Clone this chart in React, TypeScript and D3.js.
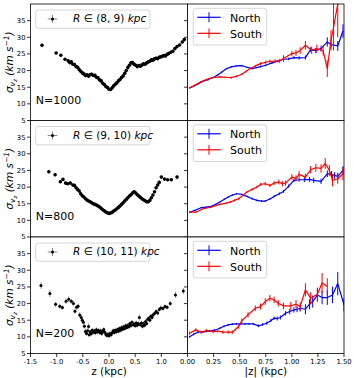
import React from 'react';
import * as d3 from 'd3';

const W = 354;
const HGT = 378;
const rowTops = [4, 120.5, 237];
const rowH = 116.5;
const leftX0 = 30.5;
const midX = 187.5;
const rightX1 = 344;

const yTicks = [5, 10, 15, 20, 25, 30, 35];
const zTicks = [-1.5, -1.0, -0.5, 0.0, 0.5, 1.0];
const absZTicks = [0, 0.25, 0.5, 0.75, 1.0, 1.25, 1.5];
const radialBins = ['(8, 9)', '(9, 10)', '(10, 11)'];
const starCounts = [1000, 800, 200];

// [z, sigma_vz, err]  -- R in (8,9)
const bin89 = [
  [-1.28, 27.6, 0.5], [-1.01, 25.3, 0.4], [-0.92, 24.6, 0.4], [-0.84, 23.4, 0.4],
  [-0.78, 22.9, 0.5], [-0.75, 22.4, 0.5], [-0.72, 22.6, 0.5], [-0.69, 21.9, 0.5], [-0.66, 21.8, 0.5],
  [-0.63, 21.2, 0.5], [-0.6, 21.0, 0.5], [-0.57, 20.3, 0.5], [-0.54, 19.8, 0.5], [-0.51, 19.3, 0.5],
  [-0.48, 19.0, 0.5], [-0.45, 18.5, 0.5], [-0.42, 18.7, 0.5], [-0.39, 18.3, 0.5], [-0.36, 18.8, 0.5],
  [-0.33, 18.9, 0.5], [-0.3, 18.5, 0.5], [-0.27, 18.6, 0.5], [-0.24, 18.0, 0.5], [-0.21, 17.8, 0.5],
  [-0.18, 17.2, 0.5], [-0.15, 16.9, 0.5], [-0.12, 16.2, 0.5], [-0.09, 15.8, 0.5], [-0.06, 15.2, 0.5],
  [-0.03, 14.9, 0.5], [0.0, 14.4, 0.5], [0.03, 14.3, 0.5], [0.06, 14.8, 0.5], [0.09, 15.4, 0.5],
  [0.12, 15.9, 0.5], [0.15, 16.3, 0.5], [0.18, 16.9, 0.5], [0.21, 17.3, 0.5], [0.24, 17.9, 0.5],
  [0.27, 18.4, 0.5], [0.3, 19.2, 0.5], [0.33, 20.0, 0.5], [0.36, 20.9, 0.5], [0.39, 21.6, 0.5],
  [0.42, 22.3, 0.5], [0.45, 22.4, 0.5], [0.48, 21.9, 0.5], [0.51, 21.6, 0.5], [0.54, 21.2, 0.5],
  [0.57, 21.5, 0.5], [0.6, 21.3, 0.5], [0.63, 21.7, 0.5], [0.66, 22.0, 0.5], [0.69, 21.9, 0.5],
  [0.72, 22.3, 0.5], [0.75, 22.6, 0.5], [0.78, 22.8, 0.5], [0.81, 23.2, 0.5], [0.84, 23.1, 0.5],
  [0.87, 23.5, 0.5], [0.9, 23.7, 0.5], [0.93, 23.6, 0.5], [0.96, 24.0, 0.5], [0.99, 24.1, 0.5],
  [1.02, 24.3, 0.5], [1.05, 24.5, 0.5], [1.08, 24.4, 0.5], [1.11, 24.9, 0.5], [1.14, 25.1, 0.5],
  [1.18, 25.5, 0.4], [1.22, 25.8, 0.4], [1.26, 26.6, 0.4], [1.3, 27.2, 0.4], [1.35, 27.7, 0.4],
  [1.4, 28.6, 0.4], [1.44, 29.3, 0.5],
];

// R in (9,10)
const bin910 = [
  [-1.15, 24.6, 0.5], [-1.03, 23.7, 0.5], [-0.93, 21.6, 0.4], [-0.88, 22.3, 0.4], [-0.83, 21.2, 0.4],
  [-0.79, 21.0, 0.4], [-0.74, 21.2, 0.4], [-0.69, 20.6, 0.4], [-0.66, 20.5, 0.4],
  [-0.63, 19.8, 0.5], [-0.6, 19.3, 0.5], [-0.57, 18.8, 0.5], [-0.54, 18.0, 0.5], [-0.51, 17.4, 0.5],
  [-0.48, 17.0, 0.5], [-0.45, 16.5, 0.5], [-0.42, 16.1, 0.5], [-0.39, 15.8, 0.5], [-0.36, 15.6, 0.5],
  [-0.33, 15.3, 0.5], [-0.3, 15.0, 0.5], [-0.27, 14.8, 0.5], [-0.24, 14.6, 0.5], [-0.21, 14.3, 0.5],
  [-0.18, 14.0, 0.5], [-0.15, 13.6, 0.5], [-0.12, 13.2, 0.5], [-0.09, 12.9, 0.5], [-0.06, 12.5, 0.5],
  [-0.03, 12.3, 0.5], [0.0, 12.1, 0.5], [0.03, 12.2, 0.5], [0.06, 12.4, 0.5], [0.09, 12.8, 0.5],
  [0.12, 13.1, 0.5], [0.15, 13.5, 0.5], [0.18, 13.9, 0.5], [0.21, 14.3, 0.5], [0.24, 14.8, 0.5],
  [0.27, 15.3, 0.5], [0.3, 15.8, 0.5], [0.33, 16.3, 0.5], [0.36, 16.8, 0.5], [0.39, 17.3, 0.5],
  [0.42, 17.7, 0.5], [0.45, 18.2, 0.5], [0.48, 18.6, 0.5], [0.51, 18.2, 0.5], [0.54, 17.7, 0.5],
  [0.57, 17.3, 0.5], [0.6, 16.9, 0.5], [0.63, 16.5, 0.5], [0.66, 16.2, 0.5], [0.69, 15.9, 0.5],
  [0.72, 15.6, 0.5], [0.75, 15.6, 0.5], [0.78, 16.0, 0.5], [0.81, 16.8, 0.5], [0.84, 17.6, 0.5],
  [0.87, 18.6, 0.5], [0.9, 19.8, 0.5], [0.93, 20.6, 0.5], [0.96, 21.4, 0.5],
  [1.0, 23.0, 0.4], [1.06, 22.4, 0.4], [1.12, 22.2, 0.4], [1.19, 22.2, 0.4], [1.3, 23.0, 0.5],
];

// R in (10,11)
const bin1011 = [
  [-1.3, 25.4, 1.0], [-1.13, 23.0, 1.0], [-1.02, 19.8, 0.8], [-0.94, 19.2, 0.8], [-0.89, 18.8, 0.7],
  [-0.82, 20.7, 0.8], [-0.77, 21.3, 0.9], [-0.72, 20.7, 0.8], [-0.68, 20.0, 0.8], [-0.65, 17.7, 0.8],
  [-0.62, 18.9, 0.8], [-0.59, 19.2, 0.8], [-0.56, 16.6, 0.8], [-0.53, 15.8, 0.8], [-0.51, 15.0, 0.7],
  [-0.49, 14.4, 0.7], [-0.47, 13.2, 0.7], [-0.45, 11.6, 0.8], [-0.43, 11.0, 0.7], [-0.41, 11.8, 0.7],
  [-0.39, 13.1, 0.9], [-0.38, 10.6, 0.7], [-0.36, 11.5, 0.7], [-0.34, 10.9, 0.7], [-0.32, 12.0, 0.7],
  [-0.3, 11.4, 0.7], [-0.28, 11.8, 0.7], [-0.26, 11.2, 0.7], [-0.24, 12.1, 0.7], [-0.22, 11.5, 0.7],
  [-0.2, 11.9, 0.7], [-0.18, 11.3, 0.7], [-0.16, 11.8, 0.7], [-0.14, 11.0, 0.7], [-0.12, 11.6, 0.7],
  [-0.1, 12.2, 0.7], [-0.08, 11.4, 0.7], [-0.06, 10.8, 0.7], [-0.04, 10.4, 0.7], [-0.02, 10.8, 0.7],
  [0.0, 10.3, 0.7], [0.02, 11.0, 0.7], [0.04, 10.6, 0.7], [0.06, 11.2, 0.7], [0.08, 11.8, 0.7],
  [0.1, 11.3, 0.7], [0.12, 12.0, 0.7], [0.14, 11.5, 0.7], [0.16, 12.2, 0.7], [0.18, 11.7, 0.7],
  [0.2, 12.5, 0.7], [0.22, 12.0, 0.7], [0.24, 12.8, 0.7], [0.26, 12.3, 0.7], [0.28, 13.0, 0.7],
  [0.3, 12.5, 0.7], [0.32, 13.3, 0.7], [0.34, 12.8, 0.7], [0.36, 13.5, 0.7], [0.38, 13.0, 0.7],
  [0.4, 14.0, 0.7], [0.42, 13.4, 0.7], [0.44, 14.4, 0.7], [0.46, 13.6, 0.7], [0.48, 13.9, 0.7],
  [0.5, 13.3, 0.7], [0.52, 14.2, 0.7], [0.54, 13.5, 0.7], [0.56, 14.0, 0.7], [0.58, 15.8, 0.9],
  [0.6, 13.6, 0.7], [0.62, 14.2, 0.7], [0.64, 13.2, 0.7], [0.66, 14.0, 0.7], [0.68, 13.5, 0.7],
  [0.7, 14.6, 0.7], [0.72, 14.0, 0.7], [0.74, 15.3, 0.7], [0.76, 15.6, 0.7], [0.78, 15.0, 0.7],
  [0.8, 16.2, 0.7], [0.82, 15.8, 0.7], [0.84, 16.6, 0.7], [0.87, 17.0, 0.7], [0.9, 17.6, 0.7],
  [0.93, 17.2, 0.7], [0.96, 18.2, 0.7], [0.99, 18.7, 0.7], [1.03, 18.5, 0.7], [1.07, 19.1, 0.7],
  [1.11, 18.9, 0.7], [1.17, 20.0, 0.8], [1.27, 22.6, 0.9], [1.42, 23.8, 0.9],
];

// [|z|, sigma_vz, err]
const north89 = [
  [0.02, 14.8, 0.2], [0.06, 15.3, 0.2], [0.1, 16.0, 0.2], [0.15, 16.8, 0.2], [0.2, 17.3, 0.2],
  [0.245, 17.9, 0.2], [0.29, 18.7, 0.2], [0.33, 19.6, 0.2], [0.375, 20.6, 0.2], [0.42, 21.1, 0.2],
  [0.47, 21.4, 0.2], [0.52, 21.5, 0.2], [0.57, 21.0, 0.2], [0.62, 20.6, 0.2], [0.66, 20.9, 0.2],
  [0.7, 21.2, 0.3], [0.75, 21.6, 0.3], [0.81, 22.3, 0.3], [0.86, 22.8, 0.3], [0.92, 23.4, 0.4],
  [0.97, 23.5, 0.4], [1.02, 23.9, 0.4], [1.07, 23.8, 0.5], [1.13, 23.9, 0.6], [1.18, 26.3, 0.7],
  [1.23, 26.0, 0.8], [1.28, 26.6, 0.9], [1.34, 28.6, 1.4], [1.375, 27.8, 1.2], [1.44, 27.4, 1.5],
  [1.49, 31.9, 2.0],
];
const south89 = [
  [0.02, 14.8, 0.2], [0.07, 15.6, 0.2], [0.13, 16.6, 0.2], [0.18, 17.3, 0.2], [0.23, 17.8, 0.2],
  [0.27, 18.0, 0.2], [0.31, 18.1, 0.2], [0.36, 18.0, 0.2], [0.42, 17.9, 0.3], [0.47, 18.3, 0.3],
  [0.52, 18.9, 0.3], [0.56, 19.7, 0.3], [0.6, 20.6, 0.3], [0.65, 21.4, 0.3], [0.7, 22.1, 0.4],
  [0.75, 22.5, 0.5], [0.79, 22.8, 0.5], [0.84, 22.8, 0.6], [0.88, 22.9, 0.6], [0.92, 23.6, 1.0],
  [1.0, 25.1, 0.8], [1.04, 25.3, 0.9], [1.08, 26.0, 1.0], [1.13, 27.6, 1.3], [1.19, 26.1, 1.1],
  [1.24, 26.6, 1.2], [1.3, 26.0, 1.5], [1.34, 20.6, 2.5], [1.375, 29.1, 3.0], [1.4, 33.0, 7.0],
  [1.44, 40.0, 10.0],
];

const north910 = [
  [0.02, 12.45, 0.2], [0.07, 13.0, 0.2], [0.13, 13.8, 0.2], [0.18, 14.0, 0.2], [0.23, 14.2, 0.2],
  [0.27, 14.8, 0.2], [0.31, 15.5, 0.2], [0.35, 16.3, 0.2], [0.39, 17.0, 0.2], [0.43, 17.6, 0.2],
  [0.47, 18.0, 0.2], [0.52, 17.8, 0.2], [0.57, 17.2, 0.2], [0.62, 16.5, 0.3], [0.665, 16.0, 0.3],
  [0.71, 15.8, 0.3], [0.745, 15.8, 0.3], [0.79, 16.4, 0.3], [0.83, 17.2, 0.3], [0.88, 18.0, 0.4],
  [0.92, 18.7, 0.4], [0.97, 20.3, 0.5], [1.02, 22.0, 0.5], [1.07, 22.2, 0.6], [1.12, 22.2, 0.7],
  [1.17, 22.3, 0.7], [1.21, 22.0, 0.8], [1.28, 21.7, 0.8], [1.34, 24.0, 1.0], [1.38, 23.8, 1.0],
  [1.41, 23.5, 1.0], [1.44, 23.2, 1.1], [1.49, 25.0, 1.3],
];
const south910 = [
  [0.02, 12.45, 0.2], [0.08, 12.45, 0.2], [0.15, 13.5, 0.2], [0.23, 14.0, 0.2], [0.31, 14.8, 0.2],
  [0.37, 15.2, 0.2], [0.41, 15.5, 0.3], [0.45, 16.0, 0.3], [0.49, 16.5, 0.3], [0.53, 17.5, 0.3],
  [0.57, 18.5, 0.3], [0.62, 19.3, 0.3], [0.665, 20.0, 0.4], [0.7, 20.8, 0.4], [0.745, 21.0, 0.5],
  [0.79, 20.5, 0.5], [0.83, 21.2, 0.6], [0.875, 21.5, 0.7], [0.91, 21.0, 0.8], [0.94, 21.2, 0.8],
  [1.0, 23.0, 0.9], [1.04, 22.6, 0.9], [1.07, 23.8, 1.0], [1.13, 23.0, 1.0], [1.18, 25.2, 1.1],
  [1.23, 25.8, 1.2], [1.28, 25.6, 1.3], [1.32, 27.1, 1.6], [1.36, 25.0, 1.6], [1.39, 22.0, 1.8],
  [1.44, 22.5, 1.5], [1.49, 24.0, 2.0],
];

const north1011 = [
  [0.02, 10.0, 0.3], [0.06, 10.8, 0.3], [0.1, 11.4, 0.3], [0.15, 11.5, 0.3], [0.21, 11.75, 0.3],
  [0.26, 12.0, 0.3], [0.31, 12.6, 0.3], [0.35, 13.2, 0.3], [0.39, 13.6, 0.3], [0.43, 13.8, 0.3],
  [0.47, 13.9, 0.3], [0.51, 13.9, 0.3], [0.55, 13.9, 0.3], [0.59, 13.9, 0.3], [0.63, 13.9, 0.3],
  [0.68, 13.3, 0.4], [0.72, 13.7, 0.4], [0.76, 14.1, 0.5], [0.8, 14.9, 0.5], [0.83, 15.6, 0.5],
  [0.86, 15.5, 0.6], [0.89, 15.8, 0.6], [0.94, 17.1, 0.7], [0.98, 17.6, 0.8], [1.02, 18.1, 0.8],
  [1.05, 18.3, 0.9], [1.08, 18.6, 1.0], [1.13, 18.3, 1.5], [1.17, 19.8, 1.5], [1.2, 20.6, 1.8],
  [1.245, 22.6, 2.0], [1.29, 21.8, 2.0], [1.34, 21.8, 2.2], [1.39, 22.6, 2.5], [1.44, 26.0, 3.5],
  [1.5, 19.6, 2.0],
];
const south1011 = [
  [0.02, 11.1, 0.5], [0.08, 12.1, 0.5], [0.13, 11.4, 0.5], [0.18, 11.9, 0.5], [0.245, 11.6, 0.5],
  [0.29, 11.75, 0.5], [0.34, 11.4, 0.5], [0.39, 11.4, 0.5], [0.43, 11.4, 0.5], [0.49, 13.1, 0.6],
  [0.52, 14.8, 0.7], [0.58, 16.6, 0.8], [0.65, 18.6, 0.8], [0.7, 19.1, 0.9], [0.745, 20.6, 1.0],
  [0.79, 21.6, 1.0], [0.83, 21.1, 1.0], [0.87, 20.1, 1.0], [0.92, 19.3, 1.0], [0.99, 19.3, 1.2],
  [1.04, 19.8, 1.3], [1.08, 19.1, 1.3], [1.13, 24.1, 2.0], [1.18, 21.6, 1.8], [1.245, 22.8, 2.0],
  [1.29, 26.2, 3.0], [1.34, 25.1, 2.5],
];

const scatterRows = [bin89, bin910, bin1011];
const northRows = [north89, north910, north1011];
const southRows = [south89, south910, south1011];

const FONT = 'DejaVu Sans, sans-serif';
const TICK_FS = 6.8;

const xLeft = d3.scaleLinear().domain([-1.5, 1.5]).range([leftX0, midX]);
const xRight = d3.scaleLinear().domain([0, 1.5]).range([midX, rightX1]);

function LeftPanel({ row }) {
  const top = rowTops[row];
  const y = d3.scaleLinear().domain([5, 40]).range([top + rowH, top]);
  const pts = scatterRows[row];
  const r = row === 2 ? 1.5 : 1.8;
  const xerr = 0.012;
  const clipId = `clipL${row}`;
  return (
    <g>
      <clipPath id={clipId}>
        <rect x={leftX0} y={top} width={midX - leftX0} height={rowH} />
      </clipPath>
      <rect x={leftX0} y={top} width={midX - leftX0} height={rowH} fill="#fff" />
      <g clipPath={`url(#${clipId})`}>
        {pts.map((d, i) => (
          <g key={i} stroke="#000" strokeOpacity={row === 2 ? 0.45 : 0.7} strokeWidth={0.9}>
            <line x1={xLeft(d[0])} x2={xLeft(d[0])} y1={y(d[1] - d[2])} y2={y(d[1] + d[2])} />
            <line x1={xLeft(d[0] - xerr)} x2={xLeft(d[0] + xerr)} y1={y(d[1])} y2={y(d[1])} />
          </g>
        ))}
        {pts.map((d, i) => (
          <circle key={i} cx={xLeft(d[0])} cy={y(d[1])} r={r} fill="#000" />
        ))}
      </g>
      {/* y ticks */}
      {yTicks.map(t => (
        <g key={t}>
          <line x1={leftX0 - 3.5} x2={leftX0} y1={y(t)} y2={y(t)} stroke="#000" strokeWidth={0.8} />
          <text x={leftX0 - 5} y={y(t) + 2.4} fontSize={TICK_FS} textAnchor="end" fontFamily={FONT}>{t}</text>
        </g>
      ))}
      {/* legend */}
      <rect x={35.7} y={top + 6} width={114.3} height={18.3} rx={2.5} fill="#fff" fillOpacity={0.8} stroke="#cccccc" strokeWidth={0.8} />
      <line x1={47.7} x2={57.3} y1={top + 15} y2={top + 15} stroke="#000" strokeOpacity={0.6} strokeWidth={0.8} />
      <line x1={52.5} x2={52.5} y1={top + 11} y2={top + 19} stroke="#000" strokeOpacity={0.6} strokeWidth={0.8} />
      <circle cx={52.5} cy={top + 15} r={1.5} fill="#000" />
      <text x={73} y={top + 18.2} fontSize={10.5} fontFamily={FONT}>
        <tspan fontStyle="italic">R</tspan>{' \u2208 '}{radialBins[row]}{' '}<tspan fontStyle="italic">kpc</tspan>
      </text>
      <text x={35.7} y={top + 99.5} fontSize={11} fontFamily={FONT}>N={starCounts[row]}</text>
      {/* y label */}
      <text transform={`translate(12.5, ${top + rowH / 2}) rotate(-90)`} textAnchor="middle" fontSize={10.5} fontFamily={FONT} fontStyle="italic">
        σ<tspan dy={2.5} fontSize={7.5}>v</tspan><tspan dy={1.5} fontSize={5.5}>z</tspan>
        <tspan dy={-4} fontSize={10.5}>{'  (km s'}</tspan><tspan dy={-4} fontSize={7.5}>{'\u22121'}</tspan>
        <tspan dy={4} fontSize={10.5}>)</tspan>
      </text>
      <rect x={leftX0} y={top} width={midX - leftX0} height={rowH} fill="none" stroke="#000" strokeWidth={0.8} />
    </g>
  );
}

function Series({ pts, color, y }) {
  const line = d3.line<number[]>().x(d => xRight(d[0])).y(d => y(d[1]));
  return (
    <g>
      {pts.map((d, i) => (
        <line key={i} x1={xRight(d[0])} x2={xRight(d[0])} y1={y(d[1] - d[2])} y2={y(d[1] + d[2])} stroke={color} strokeWidth={1} />
      ))}
      <path d={line(pts) || ''} fill="none" stroke={color} strokeWidth={1.2} strokeLinejoin="round" />
    </g>
  );
}

function RightPanel({ row }) {
  const top = rowTops[row];
  const y = d3.scaleLinear().domain([5, 40]).range([top + rowH, top]);
  const clipId = `clipR${row}`;
  return (
    <g>
      <clipPath id={clipId}>
        <rect x={midX} y={top} width={rightX1 - midX} height={rowH} />
      </clipPath>
      <rect x={midX} y={top} width={rightX1 - midX} height={rowH} fill="#fff" />
      <g clipPath={`url(#${clipId})`}>
        <Series pts={northRows[row]} color="#0000ff" y={y} />
        <Series pts={southRows[row]} color="#ff0000" y={y} />
      </g>
      {yTicks.map(t => (
        <line key={t} x1={midX - 3.5} x2={midX} y1={y(t)} y2={y(t)} stroke="#000" strokeWidth={0.8} />
      ))}
      {/* legend */}
      <rect x={193.3} y={top + 4.3} width={73.4} height={36.7} rx={2.5} fill="#fff" fillOpacity={0.8} stroke="#cccccc" strokeWidth={0.8} />
      {[{ c: '#0000ff', t: 'North' }, { c: '#ff0000', t: 'South' }].map((e, i) => (
        <g key={e.t}>
          <line x1={197.3} x2={220.7} y1={top + 13.3 + i * 16} y2={top + 13.3 + i * 16} stroke={e.c} strokeWidth={1.2} />
          <line x1={209} x2={209} y1={top + 8.3 + i * 16} y2={top + 18.3 + i * 16} stroke={e.c} strokeWidth={1} />
          <text x={230} y={top + 17.5 + i * 16} fontSize={11} fontFamily={FONT}>{e.t}</text>
        </g>
      ))}
      <rect x={midX} y={top} width={rightX1 - midX} height={rowH} fill="none" stroke="#000" strokeWidth={0.8} />
    </g>
  );
}

function BottomAxes() {
  const base = rowTops[2] + rowH;
  return (
    <g fontFamily={FONT}>
      {zTicks.map(t => (
        <g key={t}>
          <line x1={xLeft(t)} x2={xLeft(t)} y1={base} y2={base + 3.5} stroke="#000" strokeWidth={0.8} />
          <text x={xLeft(t)} y={base + 10.5} fontSize={TICK_FS} textAnchor="middle">{t.toFixed(1)}</text>
        </g>
      ))}
      {absZTicks.map(t => (
        <g key={t}>
          <line x1={xRight(t)} x2={xRight(t)} y1={base} y2={base + 3.5} stroke="#000" strokeWidth={0.8} />
          <text x={xRight(t)} y={base + 10.5} fontSize={TICK_FS} textAnchor="middle">{t.toFixed(2)}</text>
        </g>
      ))}
      <text x={(leftX0 + midX) / 2} y={374.5} fontSize={10.5} textAnchor="middle">z (kpc)</text>
      <text x={(midX + rightX1) / 2} y={374.5} fontSize={10.5} textAnchor="middle">|z| (kpc)</text>
    </g>
  );
}

export default function App() {
  return (
    <svg width={W} height={HGT} style={{ position: 'absolute', left: 0, top: 0, background: '#fff' }}>
      <rect x={0} y={0} width={W} height={HGT} fill="#fff" />
      {[0, 1, 2].map(row => (
        <g key={row}>
          <LeftPanel row={row} />
          <RightPanel row={row} />
        </g>
      ))}
      <BottomAxes />
    </svg>
  );
}
